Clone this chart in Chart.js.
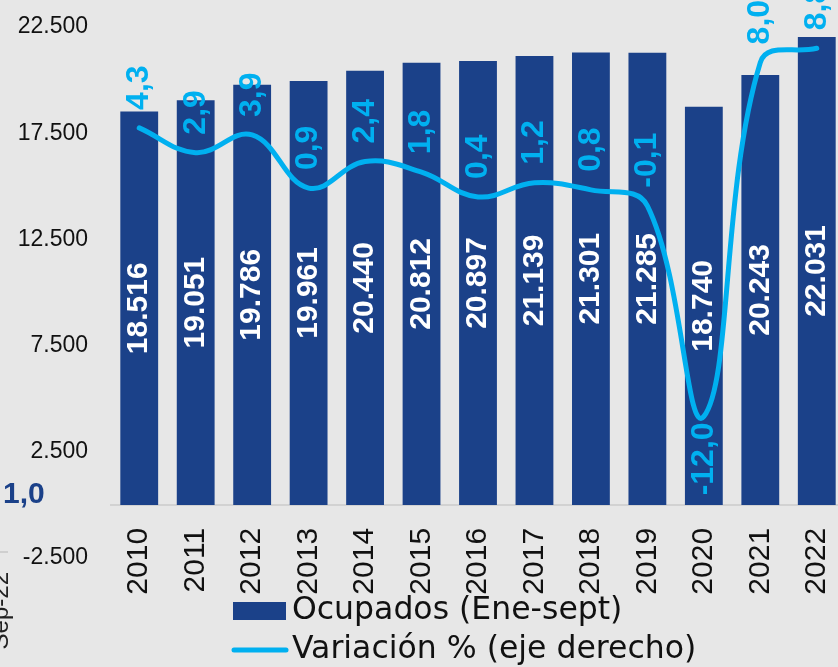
<!DOCTYPE html>
<html>
<head>
<meta charset="utf-8">
<script src="https://cdn.jsdelivr.net/npm/chart.js@4.4.1/dist/chart.umd.min.js"></script>
<style>
html, body { margin: 0; padding: 0; background: #e7e7e7; overflow: hidden; }
canvas { display: block; }
</style>
</head>
<body>
<canvas id="myChart" width="846" height="667"></canvas>
<script>
// Ocupados (miles) Ene-sept y variación % anual
var years = ['2010', '2011', '2012', '2013', '2014', '2015', '2016', '2017', '2018', '2019', '2020', '2021', '2022'];
var ocupados = [18516, 19051, 19786, 19961, 20440, 20812, 20897, 21139, 21301, 21285, 18740, 20243, 22031];
var variacion = [4.3, 2.9, 3.9, 0.9, 2.4, 1.8, 0.4, 1.2, 0.8, -0.1, -12.0, 8.0, 8.8];

var barColor = '#1b4189';
var lineColor = '#00b0f0';

function miles(v) {
    return String(v).replace(/\B(?=(\d{3})+(?!\d))/g, '.');
}
function pct(v) {
    return v.toFixed(1).replace('.', ',');
}

// etiquetas de datos (barras y linea)
var valueLabels = {
    id: 'valueLabels',
    afterDatasetsDraw: function(chart) {
        var ctx = chart.ctx;
        ctx.save();
        ctx.textBaseline = 'middle';

        ctx.fillStyle = '#ffffff';
        ctx.font = 'bold 30px "Liberation Sans"';
        ctx.textAlign = 'center';
        chart.getDatasetMeta(0).data.forEach(function(bar, i) {
            var c = bar.getCenterPoint();
            ctx.save();
            ctx.translate(c.x, c.y);
            ctx.rotate(-Math.PI / 2);
            ctx.fillText(miles(ocupados[i]), 0, 0);
            ctx.restore();
        });

        ctx.fillStyle = lineColor;
        ctx.font = 'bold 32px "Liberation Sans"';
        chart.getDatasetMeta(1).data.forEach(function(p, i) {
            var below = variacion[i] < -5;
            ctx.save();
            ctx.translate(p.x, p.y);
            ctx.rotate(-Math.PI / 2);
            ctx.textAlign = below ? 'right' : 'left';
            ctx.fillText(pct(variacion[i]), below ? -6 : 18, 0);
            ctx.restore();
        });
        ctx.restore();
    }
};

// leyenda apilada abajo + restos del grafico vecino
var bottomLegend = {
    id: 'bottomLegend',
    afterDraw: function(chart) {
        var ctx = chart.ctx;
        var ds = chart.data.datasets;
        ctx.save();
        ctx.font = '31.5px "DejaVu Sans"';
        ctx.textBaseline = 'middle';
        ctx.textAlign = 'left';

        ctx.fillStyle = ds[0].backgroundColor;
        ctx.fillRect(233, 602, 53, 18);
        ctx.fillStyle = '#111';
        ctx.fillText(ds[0].label, 292, 611);

        ctx.strokeStyle = ds[1].borderColor;
        ctx.lineWidth = 5;
        ctx.lineCap = 'round';
        ctx.beginPath();
        ctx.moveTo(234, 650);
        ctx.lineTo(286, 650);
        ctx.stroke();
        ctx.fillText(ds[1].label, 292, 650);

        ctx.fillStyle = barColor;
        ctx.font = 'bold 30px "Liberation Sans"';
        ctx.fillText('1,0', 3, 495);

        ctx.fillStyle = '#cfcfcf';
        ctx.fillRect(0, 551, 8, 2);

        ctx.fillStyle = '#222';
        ctx.font = '24px "Liberation Sans"';
        ctx.translate(8, 572);
        ctx.rotate(-Math.PI / 2);
        ctx.textAlign = 'right';
        ctx.textBaseline = 'alphabetic';
        ctx.fillText('Sep-22', 0, 0);
        ctx.restore();
    }
};

var ctx = document.getElementById('myChart').getContext('2d');

var mychart = new Chart(ctx, {
    type: 'bar',
    data: {
        labels: years,
        datasets: [{
            label: 'Ocupados (Ene-sept)',
            data: ocupados,
            backgroundColor: barColor,
            barPercentage: 0.67,
            categoryPercentage: 1,
            yAxisID: 'y',
            order: 2
        }, {
            type: 'line',
            label: 'Variación % (eje derecho)',
            data: variacion,
            borderColor: lineColor,
            borderWidth: 5,
            borderCapStyle: 'round',
            pointRadius: 0,
            tension: 0.4,
            fill: false,
            yAxisID: 'y1',
            order: 1
        }]
    },
    options: {
        responsive: false,
        animation: false,
        devicePixelRatio: 1,
        layout: { padding: { top: 27, bottom: 109, left: 0, right: 1 } },
        plugins: {
            legend: { display: false },
            tooltip: { enabled: false }
        },
        scales: {
            x: {
                position: { y: 0 },
                grid: { display: false, drawTicks: false },
                border: { display: true, color: '#d2d2d2', width: 2 },
                ticks: {
                    color: '#111',
                    font: { family: '"Liberation Sans"', size: 30 },
                    minRotation: 90,
                    maxRotation: 90,
                    autoSkip: false,
                    padding: 23
                },
                afterFit: function(scale) { scale.paddingRight = 0; scale.paddingLeft = 0; }
            },
            y: {
                position: 'left',
                min: -2500,
                max: 22500,
                grid: { display: false, drawTicks: false },
                border: { display: false },
                ticks: {
                    stepSize: 5000,
                    color: '#111',
                    font: { family: '"Liberation Sans"', size: 23 },
                    padding: 23,
                    callback: function(v) { return miles(v); }
                },
                afterFit: function(scale) {
                    scale.width = 111;
                    scale.paddingTop = 0;
                    scale.paddingBottom = 0;
                }
            },
            y1: {
                display: false,
                min: -20,
                max: 10
            }
        }
    },
    plugins: [valueLabels, bottomLegend]
});
</script>
</body>
</html>
